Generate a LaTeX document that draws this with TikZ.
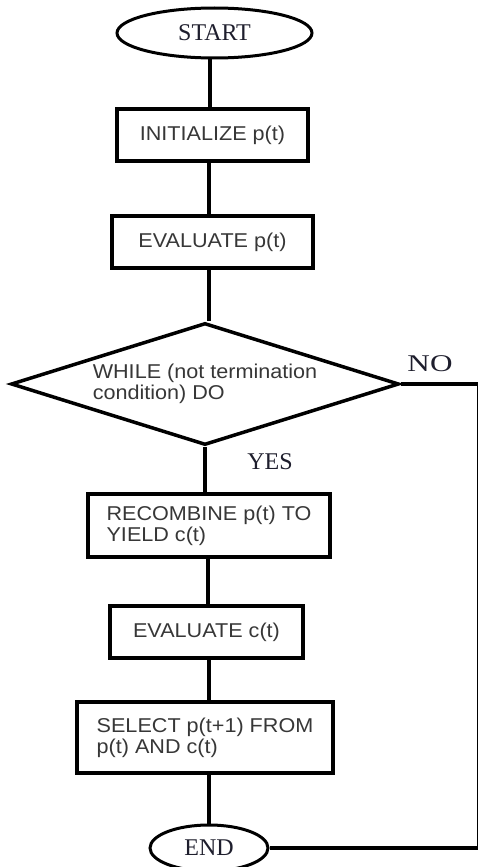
\documentclass[tikz,border=0pt]{standalone}
\usepackage{fontspec}
\usetikzlibrary{shapes.geometric}
\newfontfamily\boxfont{Liberation Sans}[FakeStretch=1.08]
\newfontfamily\termfont{Liberation Serif}
\definecolor{boxtext}{RGB}{55,55,55}
\definecolor{termtext}{RGB}{30,30,45}
\begin{document}
\begin{tikzpicture}[x=1pt,y=-1pt,
  stepbox/.style={draw=black, line width=3.5pt, rectangle, align=left,
    text=boxtext, font=\boxfont\fontsize{20}{21}\selectfont, inner sep=4pt},
  termbox/.style={draw=black, line width=3pt, ellipse, inner sep=0pt,
    text=termtext, font=\termfont\fontsize{24}{26}\selectfont},
  testbox/.style={draw=black, line width=3.5pt, diamond, shape aspect=3.18, inner sep=0pt, align=left,
    text=boxtext, font=\boxfont\fontsize{20}{21}\selectfont},
  flow/.style={draw=black, line width=4pt},
  lbl/.style={text=termtext, font=\termfont\fontsize{24}{26}\selectfont, inner sep=0pt}]
\useasboundingbox (0,0) rectangle (478,867);

\node[termbox, minimum width=195pt, minimum height=50pt] (start) at (214.5,33) {START};
\node[stepbox, minimum width=191pt, minimum height=52pt] (init) at (212.5,135) {INITIALIZE p(t)};
\node[stepbox, minimum width=201pt, minimum height=52pt] (evalp) at (212.5,242) {EVALUATE p(t)};
\node[testbox, minimum width=388pt, minimum height=122pt] (test) at (205,384) {WHILE (not termination\\condition) DO};
\node[stepbox, minimum width=242pt, minimum height=63pt] (recomb) at (209,525.5) {RECOMBINE p(t) TO\\YIELD c(t)};
\node[stepbox, minimum width=193pt, minimum height=52pt] (evalc) at (206.5,632) {EVALUATE c(t)};
\node[stepbox, minimum width=256pt, minimum height=71pt] (select) at (205,737.5) {SELECT p(t+1) FROM\\p(t) AND c(t)};
\node[termbox, minimum width=118pt, minimum height=46pt] (end) at (209,848) {END};

\node[lbl, xscale=1.3] (no) at (430,364) {NO};
\node[lbl] (yes) at (270,462) {YES};

\coordinate (c1) at (479,384);
\coordinate (c2) at (479,848);

\draw[flow] (start.south -| 210,0) -- (init.north -| 210,0);
\draw[flow] (init.south -| 209,0) -- (evalp.north -| 209,0);
\draw[flow] (evalp.south -| 209,0) -- (test.north -| 209,0);
\draw[flow] (test.south) -- (recomb.north -| test.south);
\draw[flow] (recomb.south -| 208,0) -- (evalc.north -| 208,0);
\draw[flow] (evalc.south -| 209,0) -- (select.north -| 209,0);
\draw[flow] (select.south -| 209,0) -- (end.north);
\draw[flow] (test.east) -- (c1) -- (c2) -- (end.east);
\end{tikzpicture}
\end{document}
